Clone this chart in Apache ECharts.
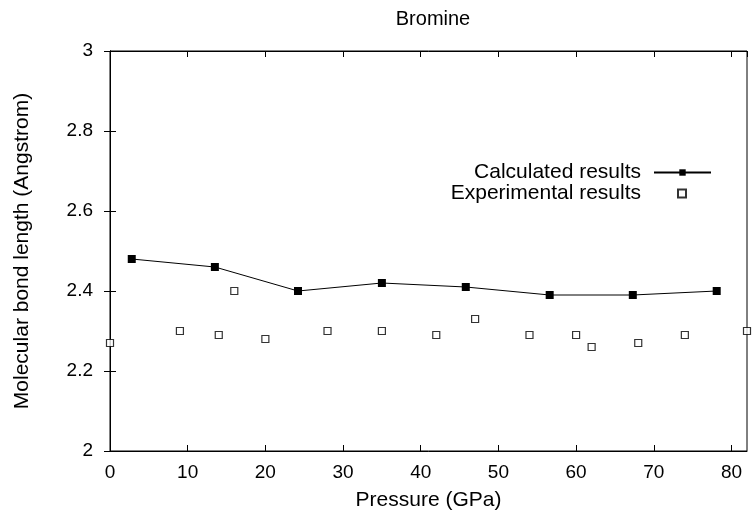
<!DOCTYPE html>
<html><head><meta charset="utf-8">
<script src="https://cdn.jsdelivr.net/npm/echarts@6/dist/echarts.min.js"></script>
<style>html,body{margin:0;padding:0;background:#fff}#c{width:752px;height:516px}</style>
</head><body><div id="c"></div>
<script>
const calcP = [2.8, 13.5, 24.2, 35.0, 45.8, 56.6, 67.3, 78.1];
const calcL = [2.48, 2.46, 2.40, 2.42, 2.41, 2.39, 2.39, 2.40];
const expP = [0, 9, 14, 16, 20, 28, 35, 42, 47, 54, 60, 62, 68, 74, 82];
const expL = [2.27, 2.30, 2.29, 2.40, 2.28, 2.30, 2.30, 2.29, 2.33, 2.29, 2.29, 2.26, 2.27, 2.29, 2.30];
const xTicks = [0, 10, 20, 30, 40, 50, 60, 70, 80];
const yTicks = [2, 2.2, 2.4, 2.6, 2.8, 3];

const F = 'Liberation Sans, Arial, Helvetica, sans-serif';
const chart = echarts.init(document.getElementById('c'));
const hidden = {show:false};
chart.setOption({
  animation:false,
  backgroundColor:'#fff',
  title:{text:'Bromine', left:433, top:9, textAlign:'center', padding:0,
    textStyle:{fontFamily:F, fontSize:20, fontWeight:'normal', color:'#000'}},
  grid:{left:110, right:5, top:51, bottom:64, show:true, borderColor:'#000', borderWidth:1},
  legend:[
    {data:['Calculated results'], orient:'vertical', align:'right', right:40, top:162, padding:0,
     itemWidth:57, itemHeight:8, textStyle:{fontFamily:F, fontSize:21, color:'#000', padding:[0,8,0,0]}},
    {data:['Experimental results'], orient:'vertical', align:'right', right:65, top:183, padding:0,
     itemWidth:8, itemHeight:8, textStyle:{fontFamily:F, fontSize:21, color:'#000', padding:[0,32,0,0]}}
  ],
  xAxis:[
    {type:'value', min:0, max:82, interval:10, position:'bottom',
     name:'Pressure (GPa)', nameLocation:'middle', nameGap:39,
     nameTextStyle:{fontFamily:F, fontSize:21, color:'#000'},
     axisLine:{show:true, lineStyle:{color:'#000'}},
     axisTick:{show:true, inside:true, length:6, lineStyle:{color:'#000'}},
     axisLabel:{fontFamily:F, fontSize:19, color:'#000', margin:12, showMaxLabel:false,
       formatter:v => xTicks.includes(v) ? String(v) : ''},
     splitLine:hidden},
    {type:'value', min:0, max:82, interval:10, position:'top',
     axisLine:{show:true, lineStyle:{color:'#000'}},
     axisTick:{show:true, inside:true, length:6, lineStyle:{color:'#000'}},
     axisLabel:hidden, splitLine:hidden}
  ],
  yAxis:[
    {type:'value', min:2, max:3, interval:0.2, position:'left',
     name:'Molecular bond length (Angstrom)', nameLocation:'middle', nameGap:77,
     nameTextStyle:{fontFamily:F, fontSize:21, color:'#000'},
     axisLine:{show:true, lineStyle:{color:'#000'}},
     axisTick:{show:true, inside:true, length:6, lineStyle:{color:'#000'}},
     axisLabel:{fontFamily:F, fontSize:19, color:'#000', margin:17,
       formatter:v => { const t = yTicks.find(k => Math.abs(k - v) < 1e-9); return t === undefined ? '' : String(t); }},
     splitLine:hidden},
    {type:'value', min:2, max:3, interval:0.2, position:'right',
     axisLine:{show:true, lineStyle:{color:'#000'}},
     axisTick:{show:true, inside:true, length:6, lineStyle:{color:'#000'}},
     axisLabel:hidden, splitLine:hidden}
  ],
  series:[
    {name:'Calculated results', type:'line', xAxisIndex:0, yAxisIndex:0,
     data:calcP.map((p,i)=>[p, calcL[i]]),
     symbol:'rect', symbolSize:8, showAllSymbol:true,
     lineStyle:{color:'#000', width:1}, itemStyle:{color:'#000'}, z:3},
    {name:'Experimental results', type:'scatter', xAxisIndex:0, yAxisIndex:0,
     data:expP.map((p,i)=>[p, expL[i]]),
     symbol:'rect', symbolSize:7,
     itemStyle:{color:'#fff', borderColor:'#000', borderWidth:1.2}, z:3}
  ]
});
</script></body></html>
